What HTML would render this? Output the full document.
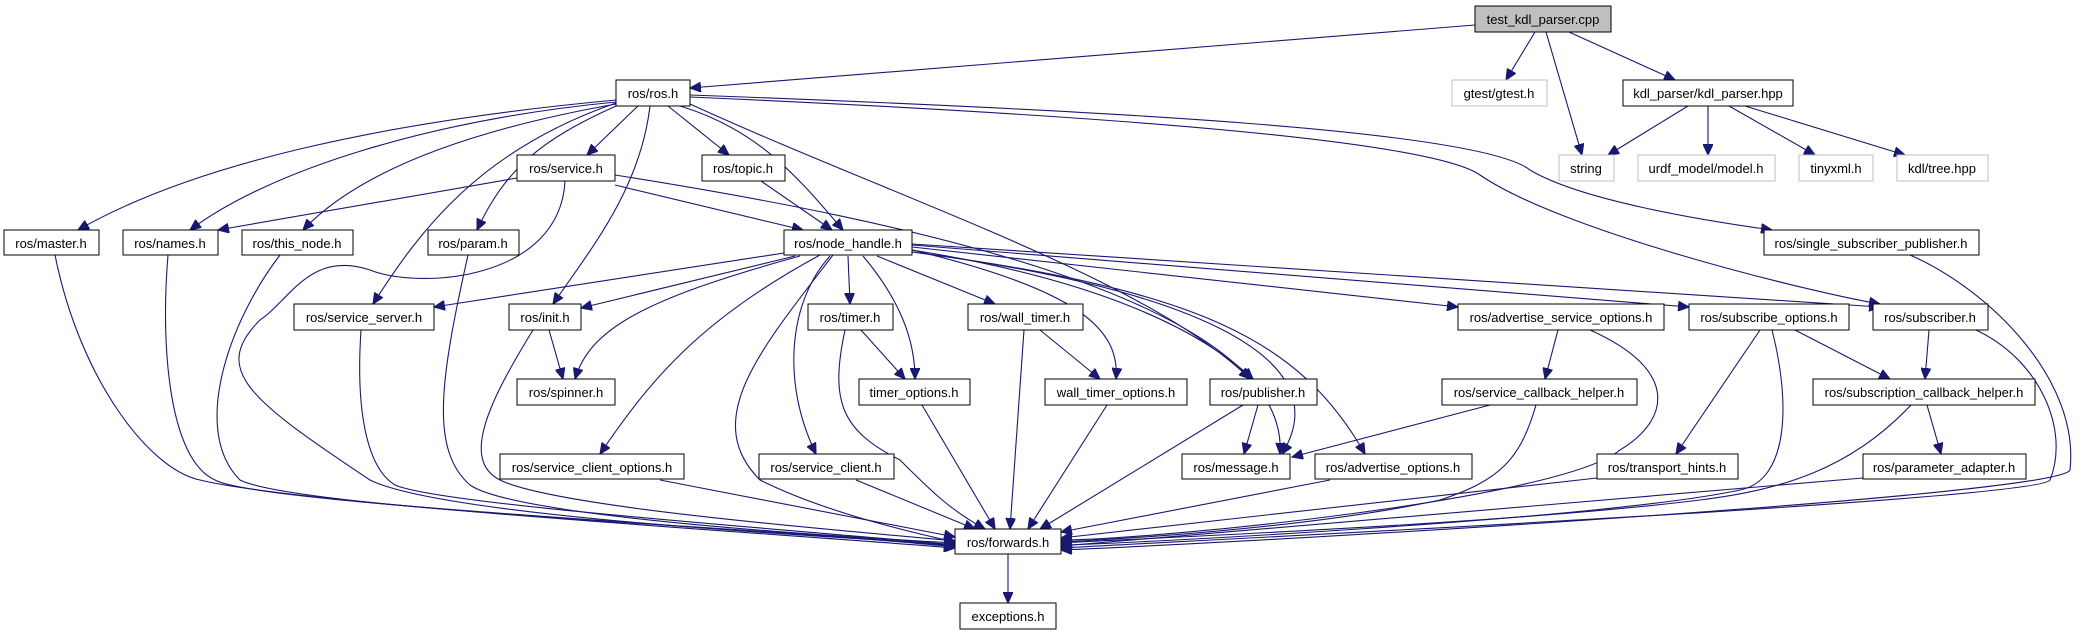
<!DOCTYPE html>
<html><head><meta charset="utf-8"><style>
html,body{margin:0;padding:0;background:#fff;}
svg{display:block;}
text{font-family:"Liberation Sans",sans-serif;font-size:13px;fill:#000;}
.b rect{fill:#fff;stroke:#000;stroke-width:1;}
.g rect{fill:#fff;stroke:#bfbfbf;stroke-width:1;}
path{fill:none;stroke:#191970;stroke-width:1.1;}
</style></head><body>
<svg width="2084" height="635" viewBox="0 0 2084 635" xmlns="http://www.w3.org/2000/svg">
<defs><marker id="a" markerUnits="userSpaceOnUse" markerWidth="12" markerHeight="10" refX="11" refY="5" orient="auto"><path d="M0,0 L11,5 L0,10 Z" style="fill:#191970;stroke:#191970"/></marker></defs>
<g marker-end="url(#a)">
<path d="M1475,25 L690,88"/>
<path d="M1535,32 L1506,80"/>
<path d="M1546,32 L1582,155"/>
<path d="M1569,32 L1675,80"/>
<path d="M1688,106 L1608,155"/>
<path d="M1708,106 L1708,155"/>
<path d="M1729,106 L1815,155"/>
<path d="M1745,106 L1905,155"/>
<path d="M616,100 C400,120 200,160 78,230"/>
<path d="M616,102 C430,120 270,170 190,230"/>
<path d="M616,104 C470,130 360,170 303,230"/>
<path d="M616,106 C540,140 505,170 477,230"/>
<path d="M616,103 C480,150 420,230 373,304"/>
<path d="M638,106 L587,155"/>
<path d="M650,106 C640,190 590,250 553,304"/>
<path d="M668,106 L729,155"/>
<path d="M680,106 C760,130 800,180 843,230"/>
<path d="M690,104 C900,200 1150,280 1250,379"/>
<path d="M690,95 C1100,110 1480,130 1530,170 C1580,200 1700,220 1772,230"/>
<path d="M690,97 C1100,115 1430,140 1480,175 C1560,230 1800,290 1880,304"/>
<path d="M517,178 L218,230"/>
<path d="M615,185 L803,230"/>
<path d="M615,175 C900,220 1290,300 1280,454"/>
<path d="M565,181 C560,280 420,290 370,270 C310,250 290,300 260,320 C210,370 250,400 370,480 C450,520 900,540 955,545"/>
<path d="M761,181 L832,230"/>
<path d="M468,255 C440,380 430,450 470,485 C520,520 900,540 955,543"/>
<path d="M55,255 C80,380 150,470 200,480 C300,505 800,535 955,548"/>
<path d="M168,255 C160,350 170,460 215,480 C260,505 800,530 955,547"/>
<path d="M280,255 C230,320 190,430 240,480 C300,510 800,530 955,546"/>
<path d="M361,330 C355,420 370,470 395,485 C440,505 800,530 955,545"/>
<path d="M784,253 L434,307"/>
<path d="M795,256 L581,308"/>
<path d="M800,256 C640,300 590,330 575,379"/>
<path d="M820,255 C700,320 650,380 600,454"/>
<path d="M833,255 C760,350 700,420 760,480 C820,510 900,530 955,542"/>
<path d="M830,256 C790,300 780,380 816,454"/>
<path d="M848,256 L850,304"/>
<path d="M863,256 C900,300 915,340 915,379"/>
<path d="M877,256 L995,304"/>
<path d="M912,250 C1080,290 1120,330 1116,379"/>
<path d="M912,250 C1100,280 1200,330 1253,379"/>
<path d="M912,252 C1200,290 1340,360 1282,454"/>
<path d="M912,252 C1200,290 1300,340 1365,454"/>
<path d="M912,247 L1458,307"/>
<path d="M912,245 L1689,307"/>
<path d="M912,244 L1880,307"/>
<path d="M549,330 L563,379"/>
<path d="M533,330 C490,400 460,460 500,480 C560,510 900,535 955,541"/>
<path d="M660,480 L955,537"/>
<path d="M845,330 C830,400 840,430 900,460 C930,490 950,510 985,529"/>
<path d="M861,330 L905,379"/>
<path d="M922,405 L995,529"/>
<path d="M1024,330 L1010,529"/>
<path d="M1040,330 L1100,379"/>
<path d="M1107,405 L1028,529"/>
<path d="M1258,405 L1244,454"/>
<path d="M1243,405 L1040,529"/>
<path d="M856,480 L975,529"/>
<path d="M1330,480 L1061,532"/>
<path d="M1558,330 L1545,379"/>
<path d="M1590,330 C1680,370 1670,420 1620,450 C1560,500 1150,540 1061,540"/>
<path d="M1490,405 L1292,457"/>
<path d="M1536,405 C1520,460 1500,480 1440,500 C1300,530 1100,540 1061,542"/>
<path d="M1760,330 L1676,454"/>
<path d="M1772,330 C1790,400 1790,480 1740,490 C1600,520 1100,545 1061,545"/>
<path d="M1795,330 L1890,379"/>
<path d="M1929,330 L1925,379"/>
<path d="M1976,330 C2040,360 2070,430 2050,480 C2040,500 1200,540 1061,548"/>
<path d="M1910,255 C1990,290 2080,380 2070,470 C2060,495 1300,540 1061,550"/>
<path d="M1927,405 L1941,454"/>
<path d="M1911,405 C1850,470 1780,490 1700,500 C1500,525 1100,540 1061,543"/>
<path d="M1597,478 L1061,538"/>
<path d="M1863,478 L1061,546"/>
<path d="M1008,554 L1008,603"/>
</g>
<g text-anchor="middle">
<rect x="1475" y="6" width="136" height="26" fill="#bfbfbf" stroke="#000"/><text x="1543" y="24">test_kdl_parser.cpp</text>
<g class="b">
<rect x="616" y="80" width="74" height="26"/><text x="653" y="98">ros/ros.h</text>
<rect x="1623" y="80" width="170" height="26"/><text x="1708" y="98">kdl_parser/kdl_parser.hpp</text>
<rect x="517" y="155" width="98" height="26"/><text x="566" y="173">ros/service.h</text>
<rect x="702" y="155" width="83" height="26"/><text x="743" y="173">ros/topic.h</text>
<rect x="4" y="230" width="95" height="25"/><text x="51" y="248">ros/master.h</text>
<rect x="123" y="230" width="95" height="25"/><text x="170" y="248">ros/names.h</text>
<rect x="242" y="230" width="111" height="25"/><text x="297" y="248">ros/this_node.h</text>
<rect x="428" y="230" width="91" height="25"/><text x="473" y="248">ros/param.h</text>
<rect x="784" y="230" width="128" height="25"/><text x="848" y="248">ros/node_handle.h</text>
<rect x="1764" y="230" width="215" height="25"/><text x="1871" y="248">ros/single_subscriber_publisher.h</text>
<rect x="294" y="304" width="140" height="26"/><text x="364" y="322">ros/service_server.h</text>
<rect x="509" y="304" width="72" height="26"/><text x="545" y="322">ros/init.h</text>
<rect x="808" y="304" width="85" height="26"/><text x="850" y="322">ros/timer.h</text>
<rect x="968" y="304" width="115" height="26"/><text x="1025" y="322">ros/wall_timer.h</text>
<rect x="1458" y="304" width="206" height="26"/><text x="1561" y="322">ros/advertise_service_options.h</text>
<rect x="1689" y="304" width="160" height="26"/><text x="1769" y="322">ros/subscribe_options.h</text>
<rect x="1873" y="304" width="115" height="26"/><text x="1930" y="322">ros/subscriber.h</text>
<rect x="517" y="379" width="98" height="26"/><text x="566" y="397">ros/spinner.h</text>
<rect x="859" y="379" width="111" height="26"/><text x="914" y="397">timer_options.h</text>
<rect x="1045" y="379" width="142" height="26"/><text x="1116" y="397">wall_timer_options.h</text>
<rect x="1210" y="379" width="107" height="26"/><text x="1263" y="397">ros/publisher.h</text>
<rect x="1442" y="379" width="195" height="26"/><text x="1539" y="397">ros/service_callback_helper.h</text>
<rect x="1813" y="379" width="222" height="26"/><text x="1924" y="397">ros/subscription_callback_helper.h</text>
<rect x="500" y="454" width="184" height="25"/><text x="592" y="472">ros/service_client_options.h</text>
<rect x="759" y="454" width="135" height="25"/><text x="826" y="472">ros/service_client.h</text>
<rect x="1182" y="454" width="108" height="25"/><text x="1236" y="472">ros/message.h</text>
<rect x="1315" y="454" width="157" height="25"/><text x="1393" y="472">ros/advertise_options.h</text>
<rect x="1597" y="454" width="141" height="25"/><text x="1667" y="472">ros/transport_hints.h</text>
<rect x="1863" y="454" width="163" height="25"/><text x="1944" y="472">ros/parameter_adapter.h</text>
<rect x="955" y="529" width="106" height="25"/><text x="1008" y="547">ros/forwards.h</text>
<rect x="960" y="603" width="96" height="26"/><text x="1008" y="621">exceptions.h</text>
</g>
<g class="g">
<rect x="1452" y="80" width="95" height="26"/><text x="1499" y="98">gtest/gtest.h</text>
<rect x="1559" y="155" width="55" height="26"/><text x="1586" y="173">string</text>
<rect x="1638" y="155" width="137" height="26"/><text x="1706" y="173">urdf_model/model.h</text>
<rect x="1799" y="155" width="74" height="26"/><text x="1836" y="173">tinyxml.h</text>
<rect x="1897" y="155" width="91" height="26"/><text x="1942" y="173">kdl/tree.hpp</text>
</g>
</g>
</svg>
</body></html>
